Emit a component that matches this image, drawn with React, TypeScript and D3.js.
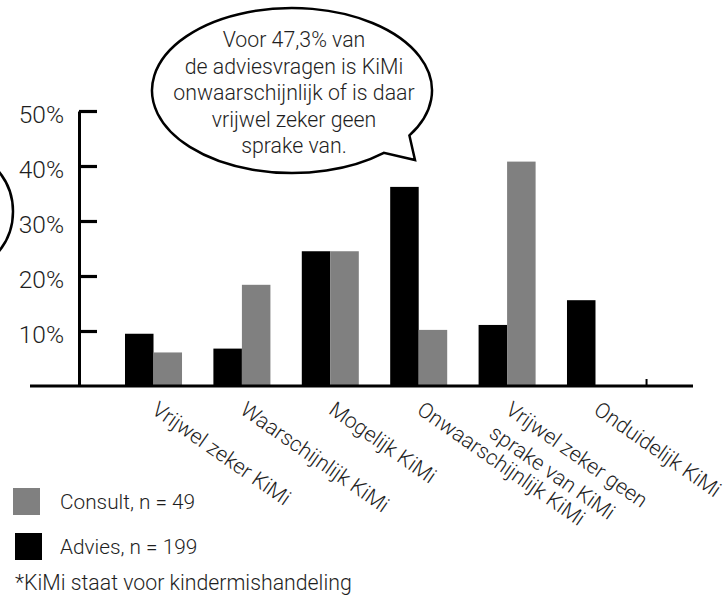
import React, { useEffect, useRef } from 'react';
import * as d3 from 'd3';

// categories (x axis), one entry per line of the rotated label
const categories = [
  'Vrijwel zeker KiMi',
  'Waarschijnlijk KiMi',
  'Mogelijk KiMi',
  'Onwaarschijnlijk KiMi',
  'Vrijwel zeker geen sprake van KiMi',
  'Onduidelijk KiMi',
];
const categoryLines = [
  ['Vrijwel zeker KiMi'],
  ['Waarschijnlijk KiMi'],
  ['Mogelijk KiMi'],
  ['Onwaarschijnlijk KiMi'],
  ['Vrijwel zeker geen', 'sprake van KiMi'],
  ['Onduidelijk KiMi'],
];

// percentages
const advies = [9.5, 6.8, 24.5, 36.2, 11.1, 15.6];
const consult = [6.1, 18.4, 24.5, 10.2, 40.8, 0];

const yTicks = [10, 20, 30, 40, 50];

const seriesKeys = ['advies', 'consult'];
const seriesColors: Record<string, string> = { advies: '#000000', consult: '#808080' };
const legendItems = [
  { key: 'consult', label: 'Consult, n = 49' },
  { key: 'advies', label: 'Advies, n = 199' },
];

const bubbleLines = [
  'Voor 47,3% van',
  'de adviesvragen is KiMi',
  'onwaarschijnlijk of is daar',
  'vrijwel zeker geen',
  'sprake van.',
];
const footnote = '*KiMi staat voor kindermishandeling';

const W = 726;
const H = 598;
const FONT = "Roboto, 'Noto Sans', sans-serif";
const FS = '21.3px';

const App: React.FC = () => {
  const svgRef = useRef<SVGSVGElement>(null);

  useEffect(() => {
    const svg = d3.select(svgRef.current);
    svg.selectAll('*').remove();

    const rows = categories.map((c, i) => ({ cat: c, advies: advies[i], consult: consult[i] }));

    const x = d3.scaleBand<string>()
      .domain(categories)
      .range([125, 624])
      .paddingInner(0.355)
      .paddingOuter(0);

    const xSub = d3.scaleBand<string>()
      .domain(seriesKeys)
      .range([0, x.bandwidth()]);

    const y = d3.scaleLinear().domain([0, 50]).range([386, 111]);

    const ink = '#1e1e1e';

    // speech bubble (ellipse with a tail towards the lower right)
    const bcx = 292, bcy = 90.5, brx = 140, bry = 82.5;
    const pt = (deg: number) => {
      const a = (deg * Math.PI) / 180;
      return [bcx + brx * Math.cos(a), bcy + bry * Math.sin(a)];
    };
    const [ax, ay] = pt(33);
    const [bx, by] = pt(49);
    svg.append('path')
      .attr('d', `M${ax},${ay} A${brx},${bry} 0 1 0 ${bx},${by} L415,160 Z`)
      .attr('fill', '#fff')
      .attr('stroke', '#000')
      .attr('stroke-width', 2.5)
      .attr('stroke-linejoin', 'miter');

    svg.append('text')
      .attr('text-anchor', 'middle')
      .style('font-family', FONT)
      .style('font-weight', 300)
      .style('font-size', FS)
      .style('fill', ink)
      .selectAll('tspan')
      .data(bubbleLines)
      .enter()
      .append('tspan')
      .attr('x', 294)
      .attr('y', (d, i) => 47 + i * 26.5)
      .text(d => d);

    // cut-off bubble at the left edge
    svg.append('ellipse')
      .attr('cx', -50)
      .attr('cy', 211.5)
      .attr('rx', 63)
      .attr('ry', 63)
      .attr('fill', 'none')
      .attr('stroke', '#000')
      .attr('stroke-width', 2.5);

    // bars
    const groups = svg.append('g')
      .selectAll('g')
      .data(rows)
      .enter()
      .append('g')
      .attr('transform', d => `translate(${x(d.cat)},0)`);

    groups.selectAll('rect')
      .data(d => seriesKeys.map(k => ({ key: k, value: (d as any)[k] as number })))
      .enter()
      .append('rect')
      .attr('x', d => xSub(d.key)!)
      .attr('width', xSub.bandwidth())
      .attr('y', d => y(d.value))
      .attr('height', d => y(0) - y(d.value))
      .attr('fill', d => seriesColors[d.key]);

    // y axis, ticks pointing into the plot
    const yAxis = svg.append('g')
      .attr('transform', 'translate(79,0)')
      .call(
        d3.axisLeft(y)
          .tickValues(yTicks)
          .tickFormat(d => `${d}%`)
          .tickSizeInner(-18)
          .tickSizeOuter(0)
          .tickPadding(15)
      );
    yAxis.select('.domain')
      .attr('stroke', '#000')
      .attr('stroke-width', 3);
    yAxis.selectAll('.tick line')
      .attr('stroke', '#000')
      .attr('stroke-width', 3.2);
    yAxis.selectAll('.tick text')
      .attr('dy', '0.45em')
      .style('font-family', FONT)
      .style('font-weight', 300)
      .style('font-size', '24.5px')
      .style('fill', ink);

    // baseline
    const [, xEnd] = x.range();
    svg.append('line')
      .attr('x1', 30)
      .attr('x2', xEnd + 69)
      .attr('y1', y(0))
      .attr('y2', y(0))
      .attr('stroke', '#000')
      .attr('stroke-width', 3);

    // small tick after the last group
    const lastX = x(categories[categories.length - 1])! + x.step() * 0.9;
    svg.append('line')
      .attr('x1', lastX)
      .attr('x2', lastX)
      .attr('y1', y(0) - 7)
      .attr('y2', y(0))
      .attr('stroke', '#000')
      .attr('stroke-width', 2);

    // rotated category labels
    const labels = svg.append('g')
      .selectAll('g')
      .data(categories)
      .enter()
      .append('g')
      .attr('transform', d => `translate(${x(d)! + x.bandwidth() / 2 + 6},400) rotate(35)`);

    labels.append('text')
      .style('font-family', FONT)
      .style('font-weight', 300)
      .style('font-size', FS)
      .style('fill', ink)
      .selectAll('tspan')
      .data((d, i) => categoryLines[i])
      .enter()
      .append('tspan')
      .attr('x', 0)
      .attr('y', (d, i) => 15.5 + i * 28.5)
      .text(d => d);

    // legend
    const legend = svg.append('g');
    const leg = legend.selectAll('g')
      .data(legendItems)
      .enter()
      .append('g')
      .attr('transform', (d, i) => `translate(0,${488 + i * 45})`);
    leg.append('rect')
      .attr('x', (d, i) => 13 + i * 2)
      .attr('y', 0)
      .attr('width', 27)
      .attr('height', 27)
      .attr('fill', d => seriesColors[d.key]);
    leg.append('text')
      .attr('x', 60)
      .attr('y', 20.5)
      .style('font-family', FONT)
      .style('font-weight', 300)
      .style('font-size', '20.8px')
      .style('fill', ink)
      .text(d => d.label);

    svg.append('text')
      .attr('x', 15)
      .attr('y', 590)
      .style('font-family', FONT)
      .style('font-weight', 300)
      .style('font-size', FS)
      .style('fill', ink)
      .text(footnote);
  }, []);

  return (
    <svg
      ref={svgRef}
      width={W}
      height={H}
      style={{ position: 'absolute', left: 0, top: 0, display: 'block', background: '#fff' }}
    />
  );
};

export default App;
